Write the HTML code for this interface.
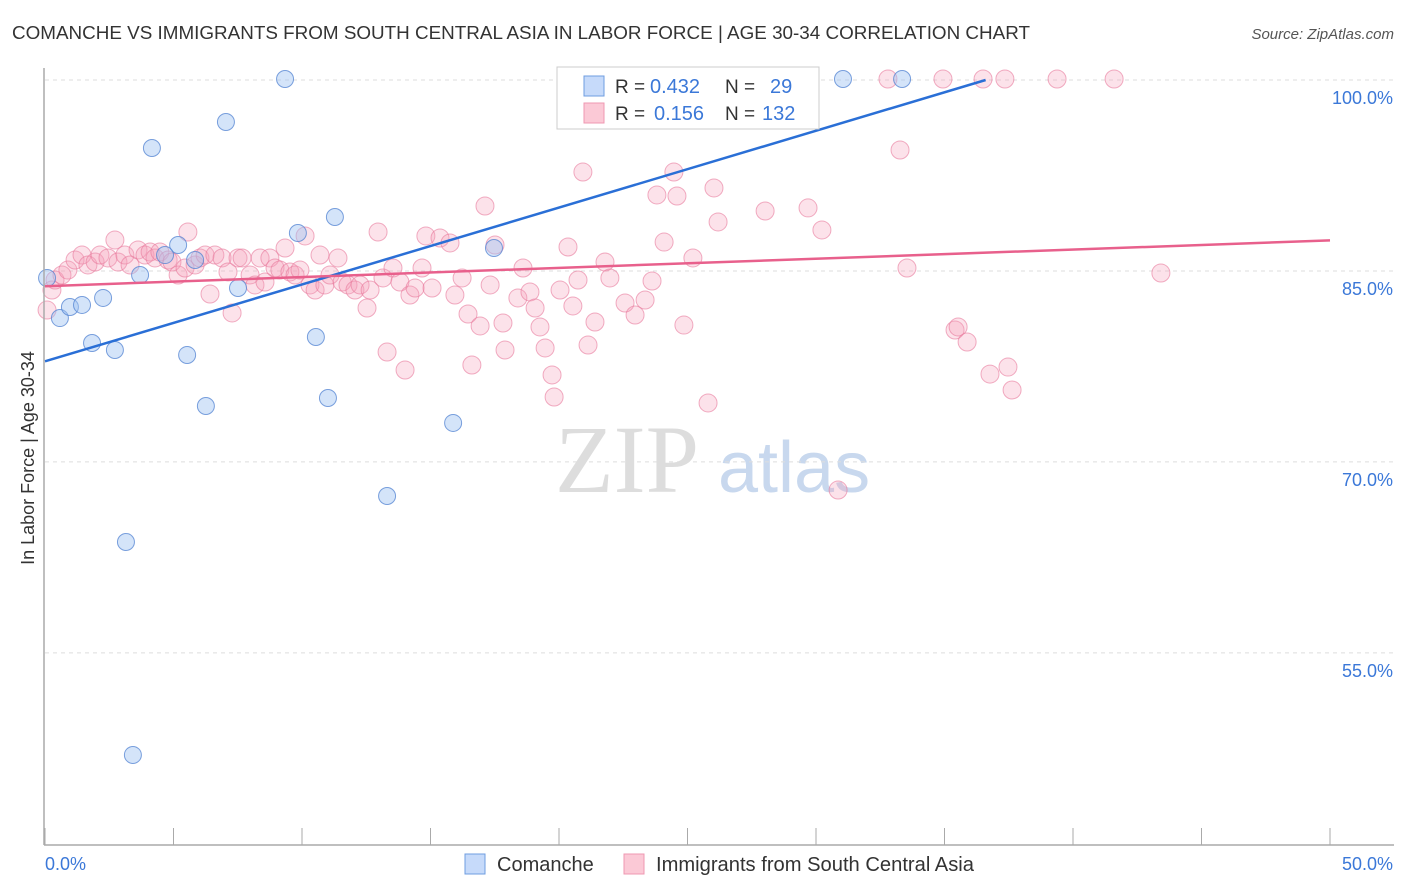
<!DOCTYPE html>
<html><head><meta charset="utf-8"><style>
body{margin:0;background:#fff;font-family:"Liberation Sans",sans-serif;}
#c{position:relative;width:1406px;height:892px;overflow:hidden}
</style></head><body>
<div id="c">
<svg id="s" width="1406" height="892" xmlns="http://www.w3.org/2000/svg">
<text x="12" y="39" font-size="18" fill="#333" textLength="1018" lengthAdjust="spacingAndGlyphs">COMANCHE VS IMMIGRANTS FROM SOUTH CENTRAL ASIA IN LABOR FORCE | AGE 30-34 CORRELATION CHART</text>
<text x="1394" y="39" font-size="15" fill="#555" font-style="italic" text-anchor="end">Source: ZipAtlas.com</text>
<text x="34" y="458" font-size="18" fill="#333" text-anchor="middle" transform="rotate(-90 34 458)">In Labor Force | Age 30-34</text>
<text x="555" y="492" font-size="96" fill="#ddd" font-family="Liberation Serif,serif">ZIP</text>
<text x="718" y="492" font-size="72" fill="#c8d8ee">atlas</text>
<g id="grid"></g><g id="pts"></g><g id="lines"></g>
<line x1="44" y1="68" x2="44" y2="845" stroke="#aaa" stroke-width="1.5"/>
<line x1="44" y1="845" x2="1394" y2="845" stroke="#aaa" stroke-width="1.5"/>
<text x="45" y="870" font-size="18" fill="#3b78d8">0.0%</text>
<text x="1393" y="870" font-size="18" fill="#3b78d8" text-anchor="end">50.0%</text>
<g>
<rect x="557" y="67" width="262" height="62" fill="#fff" stroke="#ccc"/>
<rect x="584" y="76" width="20" height="20" fill="#c6dafa" stroke="#6f9de0"/>
<rect x="584" y="103" width="20" height="20" fill="#fbc9d6" stroke="#ef98b2"/>
<text x="615" y="93" font-size="19" fill="#333">R =</text>
<text x="650" y="93" font-size="20" fill="#3b78d8">0.432</text>
<text x="725" y="93" font-size="19" fill="#333">N =</text>
<text x="770" y="93" font-size="20" fill="#3b78d8">29</text>
<text x="615" y="120" font-size="19" fill="#333">R =</text>
<text x="654" y="120" font-size="20" fill="#3b78d8">0.156</text>
<text x="725" y="120" font-size="19" fill="#333">N =</text>
<text x="762" y="120" font-size="20" fill="#3b78d8">132</text>
</g>
<g>
<rect x="465" y="854" width="20" height="20" fill="#c6dafa" stroke="#6f9de0"/>
<text x="497" y="871" font-size="20" fill="#333">Comanche</text>
<rect x="624" y="854" width="20" height="20" fill="#fbc9d6" stroke="#ef98b2"/>
<text x="656" y="871" font-size="20" fill="#333" textLength="318" lengthAdjust="spacingAndGlyphs">Immigrants from South Central Asia</text>
</g>
</svg></div>
<script>
const yTicks=[100,85,70,55];
const xTickCount=11;
const bluePx=[[47,278],[60,318],[70,307],[82,305],[103,298],[92,343],[115,350],[140,275],[152,148],[178,245],[187,355],[195,260],[206,406],[226,122],[238,288],[285,79],[298,233],[316,337],[328,398],[335,217],[387,496],[453,423],[494,248],[573,79],[843,79],[902,79],[133,755],[126,542],[165,255]];
const pinkPx=[[47,310],[52,290],[55,280],[62,275],[68,270],[75,260],[82,255],[88,265],[95,262],[100,255],[108,258],[115,240],[118,262],[125,255],[130,265],[138,250],[145,255],[150,252],[155,258],[160,252],[168,260],[172,262],[178,275],[185,268],[188,232],[195,265],[200,258],[205,255],[210,294],[215,255],[222,258],[228,272],[232,313],[238,258],[242,258],[250,275],[255,285],[260,258],[265,282],[270,258],[275,268],[280,270],[285,248],[290,272],[295,275],[300,270],[305,236],[310,285],[315,290],[320,255],[325,285],[330,275],[338,258],[342,282],[348,285],[355,290],[360,285],[367,308],[370,290],[378,232],[383,278],[387,352],[393,268],[400,282],[405,370],[410,295],[415,288],[422,268],[426,236],[432,288],[440,238],[450,243],[455,295],[462,278],[468,314],[472,365],[480,326],[485,206],[490,285],[495,245],[503,323],[505,350],[518,298],[523,268],[530,292],[535,308],[540,327],[545,348],[552,375],[554,397],[560,290],[568,247],[573,306],[578,280],[583,172],[588,345],[595,322],[605,262],[610,278],[625,303],[635,315],[645,300],[652,281],[657,195],[664,242],[674,172],[677,196],[684,325],[693,258],[708,403],[714,188],[718,222],[765,211],[797,108],[808,208],[822,230],[838,490],[888,79],[900,150],[907,268],[943,79],[955,330],[958,327],[967,342],[983,79],[990,374],[1005,79],[1008,367],[1012,390],[1057,79],[1114,79],[1161,273]];
const blueX=bluePx.map(p=>+((p[0]-45)/25.7).toFixed(2)), blueY=bluePx.map(p=>+(100-(p[1]-80)/12.73).toFixed(2));
const pinkX=pinkPx.map(p=>+((p[0]-45)/25.7).toFixed(2)), pinkY=pinkPx.map(p=>+(100-(p[1]-80)/12.73).toFixed(2));
const blueLine=[[0,77.9],[36.6,100]];
const pinkLine=[[0,83.8],[50,87.4]];
const X=v=>45+v*25.7, Y=v=>80+(100-v)*12.73;
const NS="http://www.w3.org/2000/svg";
function mk(t,a,parent){const e=document.createElementNS(NS,t);for(const k in a)e.setAttribute(k,a[k]);document.getElementById(parent).appendChild(e);return e;}
yTicks.forEach(t=>{
 const l=mk('line',{x1:45,x2:1394,y1:Y(t),y2:Y(t),stroke:'#ddd','stroke-dasharray':'4,4'},'grid');
 
 
 const tx=mk('text',{x:1393,y:Y(t)+24,'font-size':18,fill:'#3b78d8','text-anchor':'end'},'grid');
 tx.textContent=t.toFixed(1)+'%';
 
 
});
for(let i=0;i<xTickCount;i++){
 const l=mk('line',{x1:X(i*5),x2:X(i*5),y1:828,y2:845,stroke:'#aaa'},'grid');
 
 
}
pinkX.forEach((x,i)=>{
 const c=mk('circle',{cx:X(x),cy:Y(pinkY[i]),r:9,fill:'rgba(246,160,186,0.3)',stroke:'rgba(232,120,155,0.6)'},'pts');
 
 
});
blueX.forEach((x,i)=>{
 const c=mk('circle',{cx:X(x),cy:Y(blueY[i]),r:8.5,fill:'rgba(160,196,242,0.45)',stroke:'rgba(80,130,210,0.75)'},'pts');
 
 
});
const bl=mk('line',{x1:X(blueLine[0][0]),y1:Y(blueLine[0][1]),x2:X(blueLine[1][0]),y2:Y(blueLine[1][1]),stroke:'#2a6fd6','stroke-width':2.5},'lines');


const pl=mk('line',{x1:X(pinkLine[0][0]),y1:Y(pinkLine[0][1]),x2:X(pinkLine[1][0]),y2:Y(pinkLine[1][1]),stroke:'#e8608c','stroke-width':2.5},'lines');


</script>
</body></html>
